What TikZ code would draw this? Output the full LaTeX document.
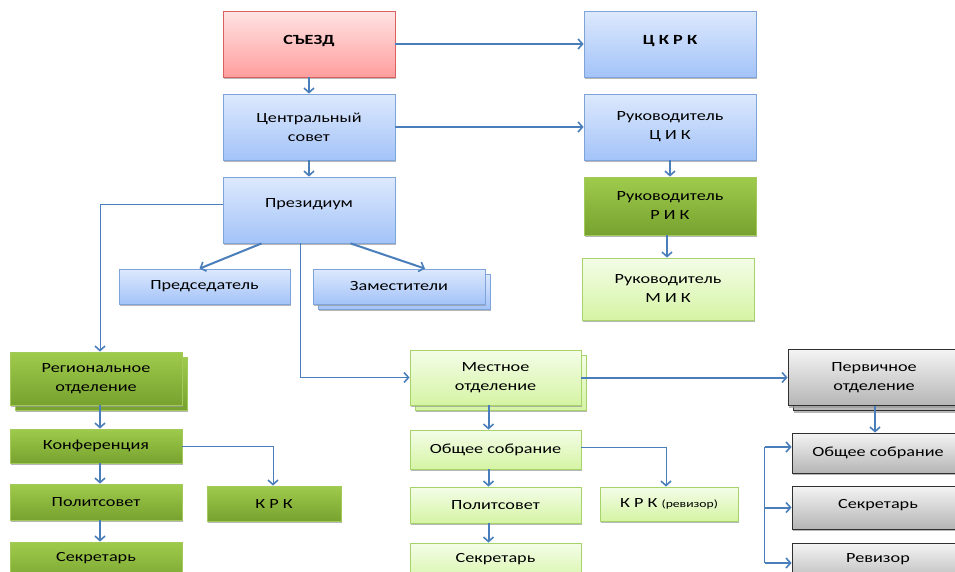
\documentclass[tikz,border=0pt]{standalone}
\usepackage{fontspec}
\setmainfont{Carlito}[FakeStretch=1.3]
\usetikzlibrary{arrows.meta,shadows,calc}
\definecolor{arr}{HTML}{4A7EBB}
\definecolor{bluetop}{HTML}{DDE9FD}\definecolor{bluebot}{HTML}{A3C3F8}\definecolor{blueline}{HTML}{7FA4DA}
\definecolor{redtop}{HTML}{FFE3E3}\definecolor{redbot}{HTML}{FF9E9E}\definecolor{redline}{HTML}{D9615F}
\definecolor{dgtop}{HTML}{9FCB4C}\definecolor{dgbot}{HTML}{77A22F}\definecolor{dgline}{HTML}{A3C95A}
\definecolor{lgtop}{HTML}{F4FDE8}\definecolor{lgbot}{HTML}{D5F4A4}\definecolor{lgline}{HTML}{A6D46A}
\definecolor{grtop}{HTML}{F4F4F4}\definecolor{grbot}{HTML}{B5B5B5}\definecolor{grline}{HTML}{303030}
\tikzset{
  box/.style={rectangle, draw, line width=0.8pt, align=center, inner sep=2pt,
    font=\fontsize{14}{19}\selectfont,
    drop shadow={shadow xshift=0.5pt, shadow yshift=-2pt, fill=black!40, opacity=0.7}},
  bluebox/.style={box, draw=blueline, top color=bluetop, bottom color=bluebot},
  redbox/.style={box, draw=redline, top color=redtop, bottom color=redbot},
  dgbox/.style={box, draw=dgline, top color=dgtop, bottom color=dgbot},
  lgbox/.style={box, draw=lgline, top color=lgtop, bottom color=lgbot},
  grbox/.style={box, draw=grline, top color=grtop, bottom color=grbot},
  sz/.style 2 args={minimum width=#1pt, minimum height=#2pt},
  link/.style={draw=arr, line width=2pt, -{Straight Barb[length=4.5pt,width=10pt,line width=1.6pt]}},
  thinlink/.style={draw=arr, line width=1pt, -{Straight Barb[length=4.5pt,width=10pt,line width=1.6pt]}},
  plain/.style={draw=arr, line width=1.2pt},
}
\begin{document}
\begin{tikzpicture}[x=1pt,y=-1pt]
\useasboundingbox (0,0) rectangle (955,571);
% stacked back copies
\node[bluebox, sz={172}{35}] (zamb) at (404,291.5) {};
\node[dgbox, sz={172}{53}] (regb) at (101,383.5) {};
\node[lgbox, sz={171}{55}] (mestb) at (500.5,382.5) {};
\node[grbox, sz={172}{56}] (pervb) at (879,382.5) {};
% main nodes
\node[redbox, sz={172}{66}, text depth=8pt] (s) at (309,44) {\bfseries СЪЕЗД};
\node[bluebox, sz={172}{66}, text depth=8pt] (ckrk) at (670,44) {\bfseries Ц К Р К};
\node[bluebox, sz={172}{66}] (cs) at (309,127) {Центральный\\совет};
\node[bluebox, sz={172}{66}] (rcik) at (670,127) {Руководитель\\Ц И К};
\node[bluebox, sz={172}{66}, text depth=14pt] (prez) at (309,210) {Президиум};
\node[bluebox, sz={171}{35}] (pred) at (204.5,286.5) {Председатель};
\node[bluebox, sz={172}{35}] (zam) at (399,286.5) {Заместители};
\node[dgbox, sz={172}{58}] (rrik) at (670,206) {Руководитель\\Р И К};
\node[lgbox, sz={172}{62}] (rmik) at (668,289) {Руководитель\\М И К};
\node[dgbox, sz={172}{53}] (reg) at (96,378.5) {Региональное\\отделение};
\node[dgbox, sz={172}{34}] (konf) at (96,446) {Конференция};
\node[dgbox, sz={172}{36}] (pol1) at (96,502) {Политсовет};
\node[dgbox, sz={172}{43}, text depth=14pt] (sek1) at (96,563.5) {Секретарь};
\node[dgbox, sz={134}{35}] (krk) at (274,503.5) {К Р К};
\node[lgbox, sz={171}{55}] (mest) at (495.5,377.5) {Местное\\отделение};
\node[lgbox, sz={171}{39}] (obs) at (495.5,449.5) {Общее собрание};
\node[lgbox, sz={171}{36}] (pol2) at (495.5,505) {Политсовет};
\node[lgbox, sz={171}{42}, text depth=12pt] (sek2) at (495.5,564) {Секретарь};
\node[lgbox, sz={138}{34}] (krkr) at (669,504) {К Р К {\fontsize{10.5}{12}\selectfont(ревизор)}};
\node[grbox, sz={172}{56}] (perv) at (874,377.5) {Первичное\\отделение};
\node[grbox, sz={172}{40}] (obs3) at (878,453) {Общее собрание};
\node[grbox, sz={172}{43}, text depth=8pt] (sek3) at (878,507.5) {Секретарь};
\node[grbox, sz={172}{42}, text depth=12pt] (rev) at (878,564) {Ревизор};
% connectors
\draw[link] (s.south) -- (cs.north);
\draw[link] (cs.south) -- (prez.north);
\draw[link] (s.east) -- (ckrk.west);
\draw[link] (cs.east) -- (rcik.west);
\draw[link] (rcik.south) -- (rrik.north);
\draw[link] ($(rrik.south)+(-3,0)$) -- ($(rmik.north)+(-1,0)$);
\draw[link] ($(prez.south west)+(39,0)$) -- ($(pred.north)+(-5,0)$);
\draw[link] ($(prez.south west)+(128,0)$) -- ($(zam.north)+(26,0)$);
\draw[thinlink] ($(prez.west)+(0,-6)$) -| ($(reg.north)+(4,0)$);
\draw[thinlink] ($(prez.south west)+(78,0)$) |- (mest.west);
\draw[link] ($(reg.south)+(4,0)$) -- ($(konf.north)+(4,0)$);
\draw[link] ($(konf.south)+(4,0)$) -- ($(pol1.north)+(4,0)$);
\draw[link] ($(pol1.south)+(4,0)$) -- ($(sek1.north)+(4,0)$);
\draw[thinlink] (konf.east) -| ($(krk.north)+(-1,0)$);
\draw[link] ($(mest.south)+(-7,0)$) -- ($(obs.north)+(-7,0)$);
\draw[link] ($(obs.south)+(-7,0)$) -- ($(pol2.north)+(-7,0)$);
\draw[link] ($(pol2.south)+(-7,0)$) -- ($(sek2.north)+(-7,0)$);
\draw[thinlink] ($(obs.east)+(0,-2)$) -| ($(krkr.north)+(-3,0)$);
\draw[link] (mest.east) -- (perv.west);
\draw[link] ($(perv.south)+(1,0)$) -- ($(obs3.north)+(-3,0)$);
\coordinate (br) at ($(obs3.west)+(-27,-6)$);
\draw[plain] (br) -- ($(rev.west)+(-27,-1)$);
\draw[link] (br) -- ($(obs3.west)+(0,-6)$);
\draw[link] ($(sek3.west)+(-27,0)$) -- (sek3.west);
\draw[link] ($(rev.west)+(-27,-1)$) -- ($(rev.west)+(0,-1)$);
\end{tikzpicture}
\end{document}
